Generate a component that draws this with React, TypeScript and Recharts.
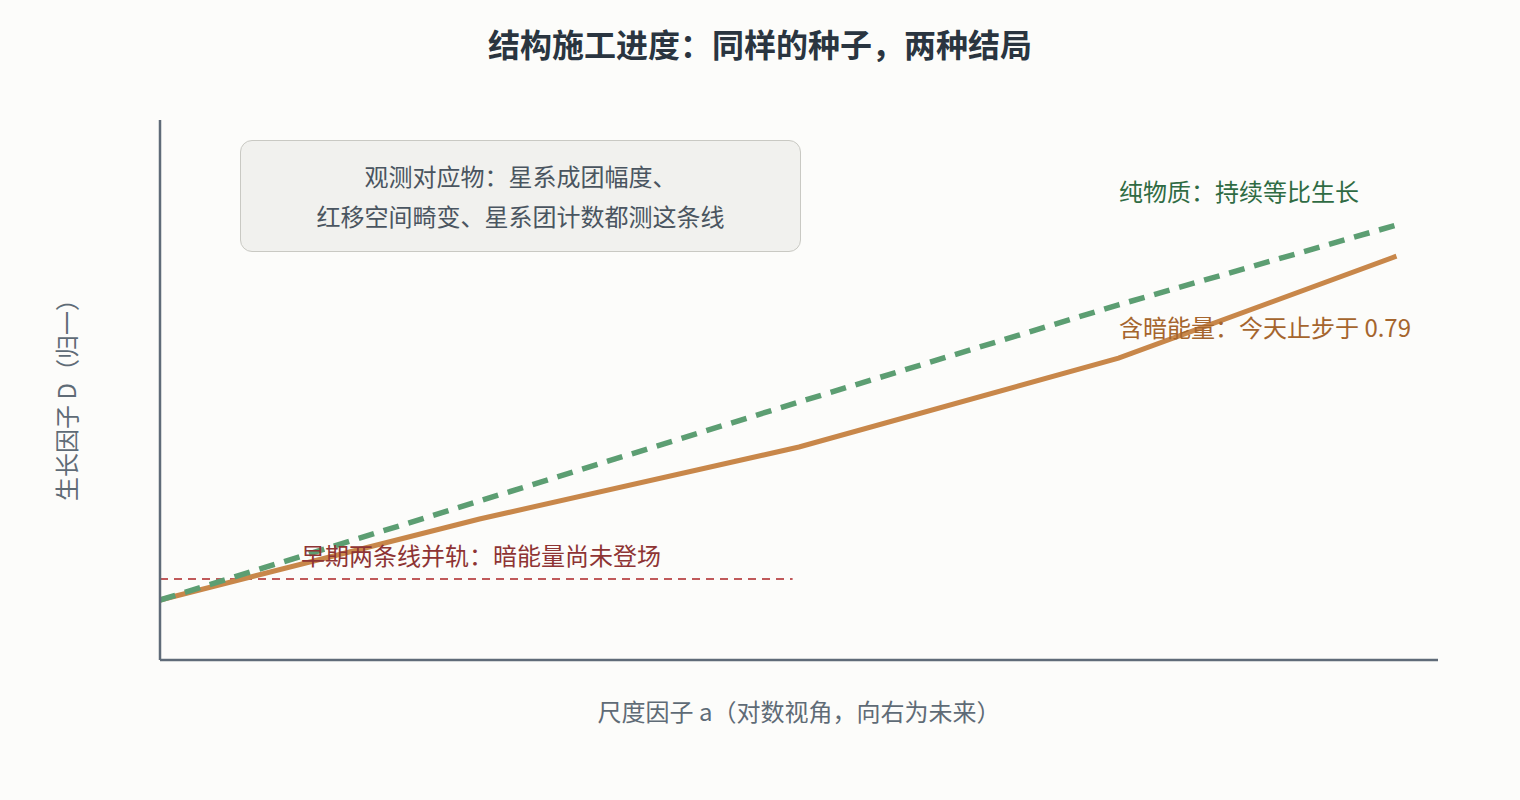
import React from "react";
import { LineChart, Line, XAxis, YAxis, ReferenceLine } from "recharts";

const xs = [0, 1, 2, 3, 3.87];
const pureMatter = [0.1, 0.265, 0.43, 0.592, 0.725];
const withDarkEnergy = [0.1, 0.235, 0.355, 0.503, 0.673];
const earlyLevel = 0.135;
const earlyEndX = 1.98;

const data = xs.map((x, i) => ({ x, green: pureMatter[i], orange: withDarkEnergy[i] }));

const FONT = '"Noto Sans CJK SC", "Noto Sans", sans-serif';

export default function App() {
  return (
    <div style={{ position: "absolute", left: 0, top: 0, width: 1520, height: 800, background: "#fcfcfa", fontFamily: FONT, overflow: "hidden" }}>
      <LineChart width={1520} height={800} data={data} margin={{ top: 120, right: 82, bottom: 110, left: 100 }}>
        <XAxis dataKey="x" type="number" domain={[0, 4]} tick={false} tickLine={false} height={30}
          axisLine={{ stroke: "#5f6b78", strokeWidth: 2.5 }} />
        <YAxis type="number" domain={[0, 0.9]} tick={false} tickLine={false} width={60}
          axisLine={{ stroke: "#5f6b78", strokeWidth: 2.5 }} />
        <ReferenceLine segment={[{ x: 0, y: earlyLevel }, { x: earlyEndX, y: earlyLevel }]}
          stroke="#c0595a" strokeWidth={2} strokeDasharray="8 6" ifOverflow="visible" />
        <Line dataKey="orange" type="linear" stroke="#c8874a" strokeWidth={5} dot={false} isAnimationActive={false} />
        <Line dataKey="green" type="linear" stroke="#5c9e72" strokeWidth={5.5} strokeDasharray="16 10" dot={false} isAnimationActive={false} />
      </LineChart>

      <div style={{ position: "absolute", left: 0, width: 1520, top: 21, textAlign: "center", fontSize: 32, fontWeight: 700, color: "#2a3540", lineHeight: "44px" }}>
        结构施工进度：同样的种子，两种结局
      </div>

      <div style={{ position: "absolute", left: 240, top: 140, width: 561, height: 112, background: "#f1f1ee", border: "1.5px solid #c9c9c3", borderRadius: 12, boxSizing: "border-box" }} />
      <div style={{ position: "absolute", left: 240, top: 156, width: 561, textAlign: "center", fontSize: 24, color: "#4a5560", lineHeight: "40px" }}>
        观测对应物：星系成团幅度、<br />红移空间畸变、星系团计数都测这条线
      </div>

      <div style={{ position: "absolute", left: 1119, top: 174, fontSize: 24, color: "#2f6b43", lineHeight: "34px", whiteSpace: "nowrap" }}>
        纯物质：持续等比生长
      </div>
      <div style={{ position: "absolute", left: 1119, top: 310, fontSize: 24, color: "#a5652d", lineHeight: "34px", whiteSpace: "nowrap" }}>
        含暗能量：今天止步于 0.79
      </div>
      <div style={{ position: "absolute", left: 301, top: 538, fontSize: 24, color: "#8e3434", lineHeight: "34px", whiteSpace: "nowrap" }}>
        早期两条线并轨：暗能量尚未登场
      </div>

      <div style={{ position: "absolute", left: 0, width: 1598, top: 694, textAlign: "center", fontSize: 24, color: "#5f6b76", lineHeight: "34px" }}>
        尺度因子 a（对数视角，向右为未来）
      </div>
      <div style={{ position: "absolute", left: 66, top: 394, transform: "translate(-50%, -50%) rotate(-90deg)", fontSize: 24, color: "#5f6b76", lineHeight: "34px", whiteSpace: "nowrap" }}>
        生长因子 D（归一）
      </div>
    </div>
  );
}
